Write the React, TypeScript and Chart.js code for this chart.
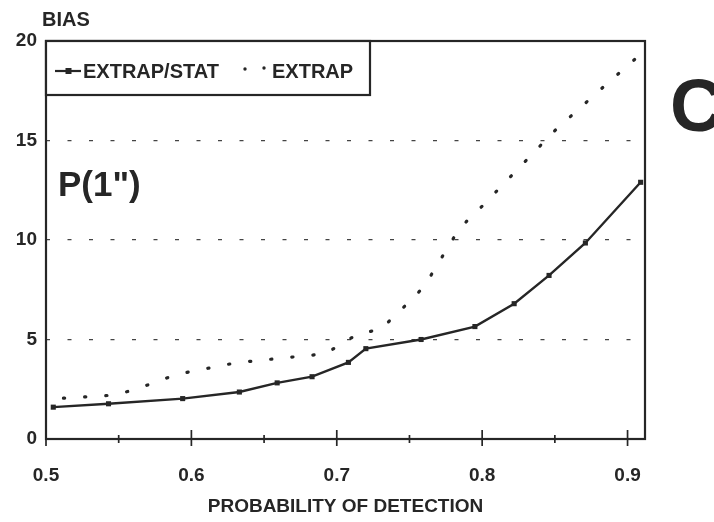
import React, { useEffect, useRef } from "react";
import { Chart, registerables } from "chart.js";

Chart.register(...registerables);

// ---- Data ----
const pdStat = [0.505, 0.543, 0.594, 0.633, 0.659, 0.683, 0.708, 0.72, 0.758, 0.795, 0.822, 0.846, 0.871, 0.909];
const biasStat = [1.6, 1.77, 2.03, 2.36, 2.82, 3.13, 3.85, 4.54, 5.0, 5.65, 6.8, 8.22, 9.85, 12.9];

const pdExtrap = [0.512, 0.545, 0.56, 0.59, 0.63, 0.66, 0.692, 0.715, 0.73, 0.745, 0.76, 0.782, 0.79, 0.8, 0.85, 0.885, 0.91];
const biasExtrap = [2.05, 2.2, 2.45, 3.25, 3.82, 4.05, 4.28, 5.3, 5.5, 6.55, 7.65, 10.3, 11.0, 11.7, 15.5, 17.8, 19.4];

const seriesNames = ["EXTRAP/STAT", "EXTRAP"];
const xTicks = [0.5, 0.55, 0.6, 0.65, 0.7, 0.75, 0.8, 0.85, 0.9];
const xLabelled = ["0.5", "0.6", "0.7", "0.8", "0.9"];
const yTicks = [0, 5, 10, 15, 20];
const xTitle = "PROBABILITY OF DETECTION";
const yTitle = "BIAS";
const insetLabel = 'P(1")';
const panelLabel = "C";

const INK = "#262626";
const FONT = '"Liberation Sans", Arial, Helvetica, sans-serif';

const decorPlugin = {
  id: "decor",
  beforeDatasetsDraw(chart: any) {
    const { ctx, chartArea: a, scales } = chart;
    ctx.save();
    // frame
    ctx.strokeStyle = INK;
    ctx.lineWidth = 2.2;
    ctx.strokeRect(a.left, a.top, a.right - a.left, a.bottom - a.top);
    // x ticks crossing the axis
    const xs = scales.x;
    ctx.lineWidth = 1.7;
    xs.ticks.forEach((t: any) => {
      const major = xLabelled.includes(Number(t.value).toFixed(2).replace(/0$/, ""));
      const px = xs.getPixelForValue(t.value);
      ctx.beginPath();
      ctx.moveTo(px, a.bottom - (major ? 9 : 4));
      ctx.lineTo(px, a.bottom + (major ? 7 : 4));
      ctx.stroke();
    });
    ctx.restore();
  },
  afterDatasetsDraw(chart: any) {
    const { ctx, chartArea: a } = chart;
    ctx.save();
    ctx.strokeStyle = INK;
    // legend box
    const lw = 324, lh = 54;
    ctx.fillStyle = "#ffffff";
    ctx.fillRect(a.left, a.top, lw, lh);
    ctx.lineWidth = 2.2;
    ctx.strokeRect(a.left, a.top, lw, lh);
    ctx.fillStyle = INK;
    const ly = a.top + 30;
    // solid sample
    ctx.beginPath();
    ctx.moveTo(a.left + 9, ly);
    ctx.lineTo(a.left + 35, ly);
    ctx.stroke();
    ctx.fillRect(a.left + 19.5, ly - 3, 6, 6);
    ctx.font = `bold 20px ${FONT}`;
    ctx.textBaseline = "middle";
    ctx.textAlign = "left";
    ctx.fillText(seriesNames[0], a.left + 37, ly + 1);
    // dotted sample
    ctx.beginPath();
    ctx.arc(a.left + 199, ly - 2, 1.7, 0, Math.PI * 2);
    ctx.fill();
    ctx.beginPath();
    ctx.arc(a.left + 218, ly - 3, 1.7, 0, Math.PI * 2);
    ctx.fill();
    ctx.fillText(seriesNames[1], a.left + 226, ly + 1);
    // inset label
    ctx.font = `bold 35px ${FONT}`;
    ctx.fillText(insetLabel, a.left + 12, a.top + 145);
    // y title
    ctx.font = `bold 20px ${FONT}`;
    ctx.fillText(yTitle, a.left - 4, a.top - 21);
    // panel label
    ctx.font = `bold 74px ${FONT}`;
    ctx.fillText(panelLabel, 670, a.top + 70);
    ctx.restore();
  },
};

export default function App() {
  const ref = useRef<HTMLCanvasElement | null>(null);
  useEffect(() => {
    document.body.style.margin = "0";
    document.body.style.background = "#ffffff";
    if (!ref.current) return;
    const statData = pdStat.map((x, i) => ({ x, y: biasStat[i] }));
    const extData = pdExtrap.map((x, i) => ({ x, y: biasExtrap[i] }));
    const chart = new Chart(ref.current, {
      type: "line",
      data: {
        datasets: [
          {
            label: seriesNames[0],
            data: statData,
            borderColor: INK,
            backgroundColor: INK,
            borderWidth: 2.4,
            pointStyle: "rect",
            pointRadius: 3.6,
            pointBorderWidth: 0,
            pointBackgroundColor: INK,
            tension: 0,
          },
          {
            label: seriesNames[1],
            data: extData,
            borderColor: INK,
            borderWidth: 3.2,
            borderDash: [1.2, 20],
            borderCapStyle: "round",
            pointRadius: 0,
            tension: 0,
          },
        ],
      },
      options: {
        animation: false,
        responsive: false,
        maintainAspectRatio: false,
        layout: { padding: { left: 0, right: 69, top: 41, bottom: 0 } },
        plugins: { legend: { display: false }, tooltip: { enabled: false }, title: { display: false } },
        scales: {
          x: {
            type: "linear",
            min: 0.5,
            max: 0.912,
            afterBuildTicks: (s: any) => {
              s.ticks = xTicks.map((v) => ({ value: v }));
            },
            grid: { display: false, drawTicks: false },
            border: { display: false },
            ticks: {
              autoSkip: false,
              maxRotation: 0,
              padding: 25,
              color: INK,
              font: { family: FONT, size: 19, weight: "bold" },
              callback: (v: any) => {
                const s = Number(v).toFixed(2).replace(/0$/, "");
                return xLabelled.includes(s) ? s : "";
              },
            },
            title: {
              display: true,
              text: xTitle,
              color: INK,
              font: { family: FONT, size: 19, weight: "bold" },
              padding: { top: 0, bottom: 4 },
            },
            afterFit: (s: any) => {
              s.height = 83;
            },
          },
          y: {
            type: "linear",
            min: 0,
            max: 20,
            afterBuildTicks: (s: any) => {
              s.ticks = yTicks.map((v) => ({ value: v }));
            },
            grid: {
              drawTicks: false,
              lineWidth: 1.2,
              color: (c: any) => ([5, 10, 15].includes(c.tick?.value) ? "#444" : "rgba(0,0,0,0)"),
            },
            border: { display: false, dash: [4, 17.5] },
            ticks: {
              padding: 9,
              color: INK,
              font: { family: FONT, size: 19, weight: "bold" },
            },
            afterFit: (s: any) => {
              s.width = 46;
            },
          },
        },
      },
      plugins: [decorPlugin],
    });
    return () => chart.destroy();
  }, []);
  return (
    <canvas
      ref={ref}
      width={714}
      height={522}
      style={{ display: "block", width: 714, height: 522, background: "#ffffff" }}
    />
  );
}
